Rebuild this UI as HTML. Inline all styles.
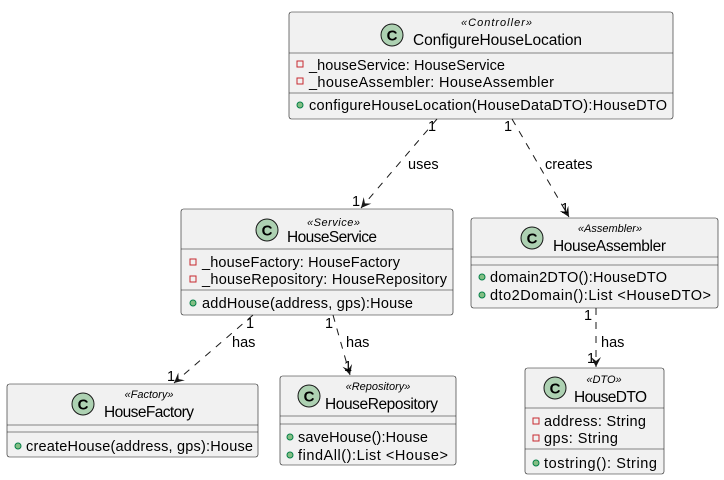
<!DOCTYPE html>
<html><head><meta charset="utf-8"><style>
html,body{margin:0;padding:0;background:#fff;}
svg{display:block;}
text{font-family:"Liberation Sans","DejaVu Sans",sans-serif;font-size:14.5px;fill:#000;}
.st{font-size:11px;font-style:italic;}
.nm{font-size:15.5px;}
.box{fill:#f1f1f1;stroke:#181818;stroke-width:0.6;}
.ln{stroke:#181818;stroke-width:0.6;}
.e{stroke:#181818;stroke-width:1;stroke-dasharray:7,7;fill:none;}
.c{fill:#add1b2;stroke:#181818;stroke-width:1;}
.ct{font-size:15px;font-weight:bold;}
.pv{fill:none;stroke:#c82930;stroke-width:1;}
.pb{fill:#84be84;stroke:#038048;stroke-width:1;}
</style></head><body>
<svg width="724" height="480" viewBox="0 0 724 480" xmlns="http://www.w3.org/2000/svg">
<defs>
<marker id="a" markerUnits="userSpaceOnUse" markerWidth="14" markerHeight="12" refX="10" refY="5" orient="auto" viewBox="0 0 14 10">
<path d="M0,0 L10,5 L0,10 L4,5 Z" fill="#181818"/>
</marker>
</defs>

<!-- ConfigureHouseLocation -->
<rect class="box" x="289" y="12" width="384" height="107" rx="2.5"/>
<line class="ln" x1="289" y1="53" x2="673" y2="53"/>
<line class="ln" x1="289" y1="93" x2="673" y2="93"/>
<circle class="c" cx="392" cy="35" r="11"/>
<text class="ct" x="392" y="40.5" text-anchor="middle">C</text>
<text class="st" x="461" y="26" textLength="71">«Controller»</text>
<text class="nm" x="413" y="45" textLength="169">ConfigureHouseLocation</text>
<rect class="pv" x="297" y="61" width="6" height="6"/>
<text x="309" y="70" textLength="196">_houseService: HouseService</text>
<rect class="pv" x="297" y="78" width="6" height="6"/>
<text x="309" y="87" textLength="245">_houseAssembler: HouseAssembler</text>
<circle class="pb" cx="300" cy="105" r="3"/>
<text x="309" y="110" textLength="358">configureHouseLocation(HouseDataDTO):HouseDTO</text>

<!-- HouseService -->
<rect class="box" x="181" y="209" width="272" height="106" rx="2.5"/>
<line class="ln" x1="181" y1="249" x2="453" y2="249"/>
<line class="ln" x1="181" y1="290" x2="453" y2="290"/>
<circle class="c" cx="267" cy="230" r="11"/>
<text class="ct" x="267" y="235.5" text-anchor="middle">C</text>
<text class="st" x="307" y="226" textLength="53">«Service»</text>
<text class="nm" x="287" y="242" textLength="90">HouseService</text>
<rect class="pv" x="190" y="259" width="6" height="6"/>
<text x="202" y="267" textLength="198">_houseFactory: HouseFactory</text>
<rect class="pv" x="190" y="276" width="6" height="6"/>
<text x="202" y="284" textLength="245">_houseRepository: HouseRepository</text>
<circle class="pb" cx="193" cy="303" r="3"/>
<text x="202" y="308" textLength="211">addHouse(address, gps):House</text>

<!-- HouseAssembler -->
<rect class="box" x="471" y="218" width="247" height="90" rx="2.5"/>
<line class="ln" x1="471" y1="257" x2="718" y2="257"/>
<line class="ln" x1="471" y1="265" x2="718" y2="265"/>
<circle class="c" cx="532" cy="238" r="11"/>
<text class="ct" x="532" y="243.5" text-anchor="middle">C</text>
<text class="st" x="610" y="232" text-anchor="middle">«Assembler»</text>
<text class="nm" x="553" y="251" textLength="113">HouseAssembler</text>
<circle class="pb" cx="482" cy="277" r="3"/>
<text x="490" y="282" textLength="177">domain2DTO():HouseDTO</text>
<circle class="pb" cx="482" cy="295" r="3"/>
<text x="490" y="300" textLength="221">dto2Domain():List &lt;HouseDTO&gt;</text>

<!-- HouseFactory -->
<rect class="box" x="7" y="384" width="251" height="73" rx="2.5"/>
<line class="ln" x1="7" y1="425" x2="258" y2="425"/>
<line class="ln" x1="7" y1="432" x2="258" y2="432"/>
<circle class="c" cx="83" cy="404" r="11"/>
<text class="ct" x="83" y="409.5" text-anchor="middle">C</text>
<text class="st" x="149" y="398" text-anchor="middle">«Factory»</text>
<text class="nm" x="104" y="417" textLength="90">HouseFactory</text>
<circle class="pb" cx="18" cy="446" r="3"/>
<text x="26" y="451" textLength="227">createHouse(address, gps):House</text>

<!-- HouseRepository -->
<rect class="box" x="280" y="376" width="176" height="89" rx="2.5"/>
<line class="ln" x1="280" y1="416" x2="456" y2="416"/>
<line class="ln" x1="280" y1="424" x2="456" y2="424"/>
<circle class="c" cx="309" cy="396" r="11"/>
<text class="ct" x="309" y="401.5" text-anchor="middle">C</text>
<text class="st" x="378" y="390" text-anchor="middle">«Repository»</text>
<text class="nm" x="325" y="409" textLength="113">HouseRepository</text>
<circle class="pb" cx="290" cy="437" r="3"/>
<text x="298" y="442" textLength="130">saveHouse():House</text>
<circle class="pb" cx="290" cy="455" r="3"/>
<text x="298" y="460" textLength="150">findAll():List &lt;House&gt;</text>

<!-- HouseDTO -->
<rect class="box" x="525" y="368" width="139" height="106" rx="2.5"/>
<line class="ln" x1="525" y1="408" x2="664" y2="408"/>
<line class="ln" x1="525" y1="449" x2="664" y2="449"/>
<circle class="c" cx="555" cy="388" r="11"/>
<text class="ct" x="555" y="393.5" text-anchor="middle">C</text>
<text class="st" x="604" y="383" text-anchor="middle">«DTO»</text>
<text class="nm" x="574" y="402" textLength="73">HouseDTO</text>
<rect class="pv" x="533" y="418" width="6" height="6"/>
<text x="544" y="426" textLength="102">address: String</text>
<rect class="pv" x="533" y="435" width="6" height="6"/>
<text x="544" y="443" textLength="74">gps: String</text>
<circle class="pb" cx="536" cy="463" r="3"/>
<text x="544" y="468" textLength="113">tostring(): String</text>

<!-- Edges -->
<line class="e" x1="437" y1="119" x2="361" y2="208" marker-end="url(#a)"/>
<text x="408" y="169">uses</text>
<text x="428" y="131">1</text>
<text x="352" y="206">1</text>

<line class="e" x1="512" y1="119" x2="569" y2="217" marker-end="url(#a)"/>
<text x="545" y="169">creates</text>
<text x="504" y="131">1</text>
<text x="561" y="213">1</text>

<line class="e" x1="253" y1="315" x2="174" y2="383" marker-end="url(#a)"/>
<text x="232" y="347">has</text>
<text x="246" y="328">1</text>
<text x="167" y="381">1</text>

<line class="e" x1="333" y1="315" x2="350" y2="375" marker-end="url(#a)"/>
<text x="346" y="347">has</text>
<text x="325" y="328">1</text>
<text x="344" y="371">1</text>

<line class="e" x1="596" y1="308" x2="596" y2="367" marker-end="url(#a)"/>
<text x="601" y="347">has</text>
<text x="584" y="320">1</text>
<text x="587" y="363">1</text>
</svg>
</body></html>
